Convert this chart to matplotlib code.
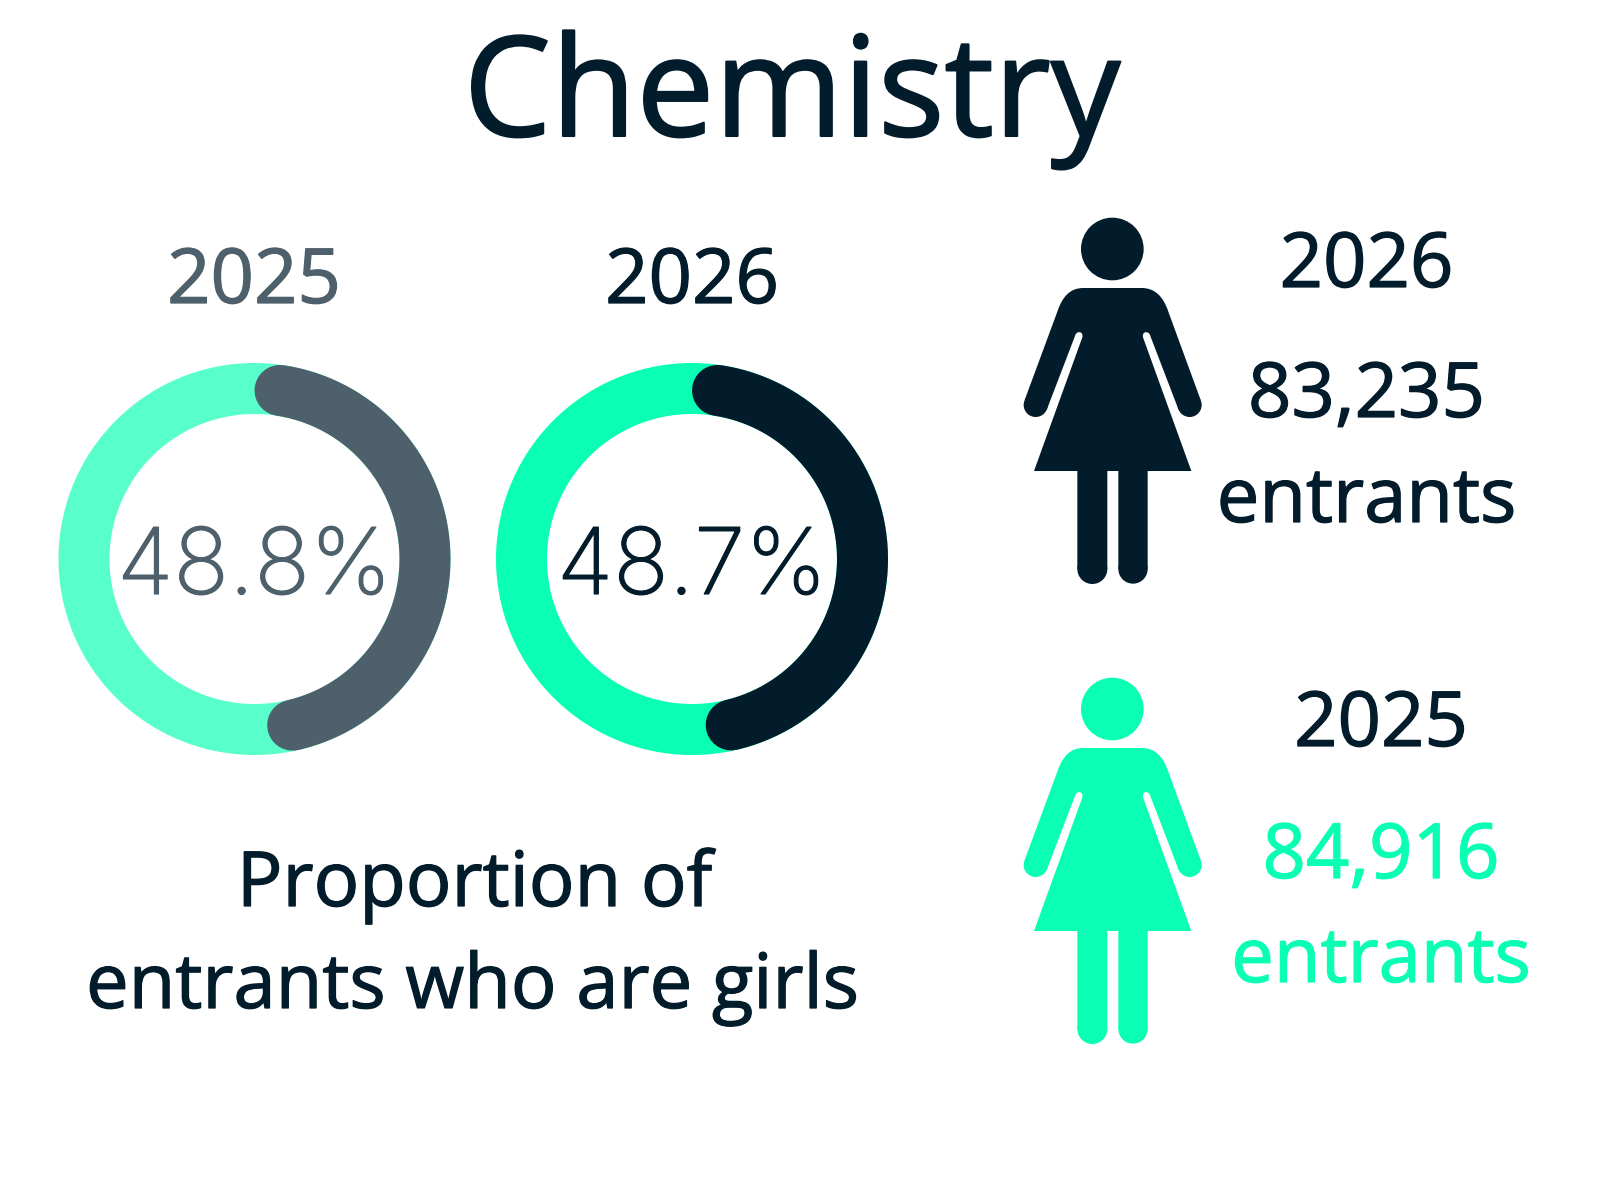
import numpy as np
import matplotlib
matplotlib.use('Agg')
import matplotlib.pyplot as plt
from matplotlib.path import Path
from matplotlib.patches import PathPatch, Circle
import matplotlib.patheffects as pe

plt.rcParams['text.hinting'] = 'no_hinting'

FONT = 'Open Sans'
PCT_FONT = 'Inter'
DARK = '#031c2c'
SLATE = '#4e606b'
GREEN = '#0affb4'
PALE = '#59ffca'

title = 'Chemistry'
years = ['2025', '2026']
girls_share = [48.8, 48.7]
entrants_years = ['2026', '2025']
entrants = ['83,235', '84,916']

W, H = 1600, 1200
fig = plt.figure(figsize=(W / 100, H / 100), dpi=100, facecolor='white')
page = fig.add_axes([0, 0, 1, 1])
page.set_xlim(0, W)
page.set_ylim(H, 0)
page.axis('off')


def pt(px):
    # text size from pixel height
    return px * 0.72


def label(x, y, s, color=DARK, size=76):
    t = page.text(x, y, s, color=color, fontsize=pt(size), family=FONT,
                  ha='center', va='baseline')
    t.set_path_effects([pe.withStroke(linewidth=0.9, foreground=color)])
    return t


def donut(cx, cy, share, ring, arc, color):
    R = 196
    ax = fig.add_axes([(cx - R) / W, 1 - (cy + R) / H, 2 * R / W, 2 * R / H],
                      projection='polar')
    ax.set_theta_zero_location('N')
    ax.set_theta_direction(-1)
    ax.set_rlim(0, R)
    ax.axis('off')
    ax.patch.set_alpha(0)
    lw = 51 * 0.72
    t = np.linspace(0, 2 * np.pi, 361)
    ax.plot(t, np.full_like(t, 170.5), color=ring, lw=lw, clip_on=False,
            solid_capstyle='round')
    # the round caps sit inside the share
    cap = np.arcsin(25.5 / 170.5)
    t2 = np.linspace(cap, np.deg2rad(share * 3.6) - cap, 200)
    ax.plot(t2, np.full_like(t2, 170.5), color=arc, lw=lw,
            solid_capstyle='round', clip_on=False)
    p = page.text(cx, 594, '%.1f%%' % share, color=color, fontsize=pt(92), family=PCT_FONT,
                  weight='light', ha='center', va='baseline')
    p.set_path_effects([pe.withStroke(linewidth=0.8, foreground=color)])


def girl(ox, oy, color):
    # icon drawn in the pixels of the zoomed crop (3x), origin at the crop corner
    s = 1 / 3.0
    M, L, C = Path.MOVETO, Path.LINETO, Path.CURVE4
    verts = [(102, 813), (232, 813), (232, 1107), (322, 1107), (322, 813),
             (355, 813), (355, 1107), (443, 1107), (443, 813), (574, 813),
             (429, 412), (425, 392), (448, 392), (451, 408),
             (536, 630), (602, 600),
             (505, 335), (490, 290), (465, 264), (425, 264),
             (250, 264), (210, 264), (187, 290), (172, 335),
             (74, 600), (140, 630),
             (225, 408), (228, 392), (251, 392), (247, 412), (102, 813)]
    codes = [M, L, L, L, L, L, L, L, L, L,
             L, C, C, C,
             L, L,
             L, C, C, C,
             L, C, C, C,
             L, L,
             L, C, C, C, Path.CLOSEPOLY]
    v = np.array(verts, dtype=float) * s + [ox, oy]
    page.add_patch(PathPatch(Path(v, codes), fc=color, ec='none'))
    # head, hands, feet
    for x, y, r in [(337, 147, 94), (107, 615, 36), (569, 615, 36), (277, 1107, 45), (399, 1107, 44)]:
        page.add_patch(Circle((ox + x * s, oy + y * s), r * s, fc=color, ec='none'))


tt = page.text(792, 136, title, color=DARK, fontsize=pt(139), family=FONT,
               ha='center', va='baseline')
tt.set_path_effects([pe.withStroke(linewidth=1.5, foreground=DARK)])

donut(254.5, 559, girls_share[0], PALE, SLATE, SLATE)
donut(692, 559, girls_share[1], GREEN, DARK, DARK)
label(254, 303, years[0], SLATE)
label(692, 303, years[1])

label(474.5, 906, 'Proportion of')
label(472.5, 1008, 'entrants who are girls')

girl(1000, 200, DARK)
girl(1000, 660, GREEN)

label(1366.5, 287, entrants_years[0])
label(1366.5, 417, entrants[0])
label(1366.5, 522, 'entrants')
label(1381, 746, entrants_years[1])
label(1381, 878, entrants[1], GREEN)
label(1381, 982, 'entrants', GREEN)

fig.savefig('out.png', dpi=100)
